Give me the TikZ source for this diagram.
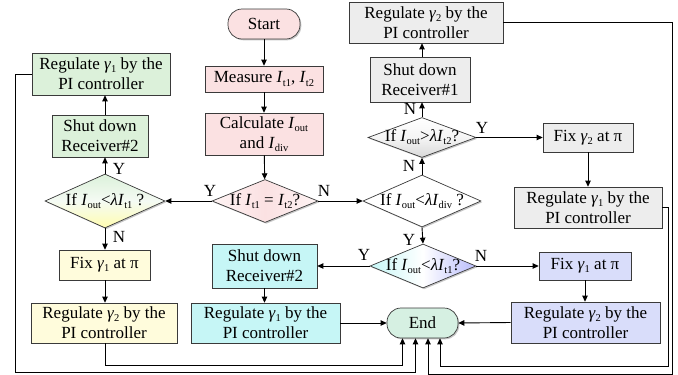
\documentclass[tikz,border=0pt]{standalone}
\usepackage{fontspec}
\setmainfont{Liberation Serif}
\usetikzlibrary{shapes.geometric,arrows.meta,shadows}

\definecolor{pinkf}{HTML}{FBE1E2}
\definecolor{greenf}{HTML}{DCF1DA}
\definecolor{yellowf}{HTML}{FFFCDC}
\definecolor{cyanf}{HTML}{C6F6F6}
\definecolor{grayf}{HTML}{EDEDED}
\definecolor{bluef}{HTML}{D9DDFA}
\definecolor{endf}{HTML}{D6F0E2}
\definecolor{edgec}{HTML}{3A3A3A}

% lowered, smaller subscript for variable names
\newcommand\lowsub[1]{\raisebox{-0.4ex}{\fontsize{10.5}{11}\selectfont #1}}
\newcommand\Ivar[1]{\textit{I}\lowsub{#1}}
\newcommand\gam[1]{\textit{γ}\lowsub{#1}}
\newcommand\lam{\textit{λ}}

\tikzset{
  every node/.style={font=\fontsize{17}{20}\selectfont},
  softshadow/.style={drop shadow={shadow xshift=1.3pt, shadow yshift=-1.3pt, opacity=0.22, fill=black}},
  box/.style={draw=edgec, line width=0.7pt, inner sep=0pt, align=center, softshadow},
  term/.style={box, rounded corners=14pt},
  dia/.style={diamond, draw=edgec, line width=0.7pt, inner sep=0pt, softshadow},
  arr/.style={draw=black, line width=0.9pt, -{Triangle[length=6pt,width=5.5pt]}},
  yn/.style={inner sep=0pt},
}

\begin{document}
\begin{tikzpicture}[x=1pt, y=-1pt]
\useasboundingbox (0,0) rectangle (678,375);

% ---- main column ----
\node[term, fill=pinkf, minimum width=72pt, minimum height=30pt] (start) at (264,24) {Start};
\node[box, fill=pinkf, minimum width=118pt, minimum height=26pt] (meas) at (264,79) {Measure \Ivar{t1}, \Ivar{t2}};
\node[box, fill=pinkf, minimum width=118pt, minimum height=42pt] (calc) at (264,134) {Calculate \Ivar{out}\\and \Ivar{div}};
\node[dia, left color=pinkf!40!white, right color=pinkf!40!white, middle color=pinkf,
      minimum width=106pt, minimum height=43pt,
      label={center:If \Ivar{t1} = \Ivar{t2}?}] (d1) at (265,201) {};

% ---- left branch ----
\node[dia, top color=greenf, bottom color=yellowf!80!yellow, middle color=greenf!30!white,
      minimum width=120pt, minimum height=54pt,
      label={center:If \Ivar{out}<\lam\Ivar{t1} ?}] (d2) at (105,201) {};
\node[box, fill=greenf, minimum width=96pt, minimum height=42pt] (sd2) at (100,136) {Shut down\\Receiver\#2};
\node[box, fill=greenf, minimum width=138pt, minimum height=42pt] (reg1) at (101,74) {Regulate \gam{1} by the\\PI controller};
\node[box, fill=yellowf, minimum width=91pt, minimum height=30pt] (fix1) at (104.5,265) {Fix \gam{1} at π};
\node[box, fill=yellowf, minimum width=146pt, minimum height=40pt] (reg2y) at (104,323) {Regulate \gam{2} by the\\PI controller};

% ---- right branch ----
\node[dia, fill=white, minimum width=118pt, minimum height=52pt,
      label={center:If \Ivar{out}<\lam\Ivar{div} ?}] (d3) at (422,201) {};
\node[dia, top color=white, bottom color=gray!30, middle color=gray!8,
      minimum width=108pt, minimum height=40pt,
      label={center:If \Ivar{out}>\lam\Ivar{t2}?}] (d4) at (422,137.5) {};
\node[box, fill=grayf, minimum width=100pt, minimum height=45pt] (sd1) at (420,79.5) {Shut down\\Receiver\#1};
\node[box, fill=grayf, minimum width=154pt, minimum height=41pt] (reg2t) at (426,22.5) {Regulate \gam{2} by the\\PI controller};
\node[box, fill=grayf, minimum width=90pt, minimum height=29pt] (fix2) at (588,137.5) {Fix \gam{2} at π};
\node[box, fill=grayf, minimum width=148pt, minimum height=41pt] (reg1g) at (588,207.5) {Regulate \gam{1} by the\\PI controller};

\node[dia, left color=cyanf, right color=bluef!85!blue, middle color=white,
      minimum width=106pt, minimum height=44pt,
      label={center:If \Ivar{out}<\lam\Ivar{t1}?}] (d5) at (423,266) {};
\node[box, fill=cyanf, minimum width=105pt, minimum height=44pt] (sd2b) at (264.5,266) {Shut down\\Receiver\#2};
\node[box, fill=cyanf, minimum width=149pt, minimum height=40pt] (reg1b) at (265.5,323) {Regulate \gam{1} by the\\PI controller};
\node[box, fill=bluef, minimum width=92pt, minimum height=28pt] (fix1b) at (585,266) {Fix \gam{1} at π};
\node[box, fill=bluef, minimum width=149pt, minimum height=41pt] (reg2b) at (585.5,322.5) {Regulate \gam{2} by the\\PI controller};

\node[term, fill=endf, minimum width=71pt, minimum height=30pt] (end) at (422.5,323) {End};

% ---- connectors ----
\draw[arr] (start) -- (meas);
\draw[arr] (meas) -- (calc);
\draw[arr] (calc) -- (d1);
\draw[arr] (d1.west) -- (d2.east);
\draw[arr] (d1.east) -- (d3.west);
\draw[arr] (d2.north) -- (d2.north |- sd2.south);
\draw[arr] (d2.north |- sd2.north) -- (d2.north |- reg1.south);
\draw[arr] (d2.south) -- (d2.south |- fix1.north);
\draw[arr] (d2.south |- fix1.south) -- (d2.south |- reg2y.north);

\draw[arr] (d3.north) -- (d4.south);
\draw[arr] (d4.north) -- (d4.north |- sd1.south);
\draw[arr] (d4.north |- sd1.north) -- (d4.north |- reg2t.south);
\draw[arr] (d4.east) -- (d4.east -| fix2.west);
\draw[arr] (fix2.south) -- (reg1g.north);
\draw[arr] (d3.south) -- (d5.north);
\draw[arr] (d5.west) -- (sd2b.east |- d5.west);
\draw[arr] (d5.east) -- (fix1b.west |- d5.east);
\draw[arr] (sd2b.south) -- (sd2b.south |- reg1b.north);
\draw[arr] (fix1b.south) -- (fix1b.south |- reg2b.north);
\draw[arr] (reg1b.east) -- (end.west);
\draw[arr] (reg2b.west) -- (end.east);

% return paths into End
\coordinate (yb) at (105,365);
\coordinate (lb) at (15,372);
\coordinate (rb) at (672,374);
\coordinate (rb2) at (668,366.5);
\draw[arr] (d2.south |- reg2y.south) -- (yb) -| ([xshift=-20pt]end.south);
\draw[arr] (reg1.west) -| (lb) -| ([xshift=-7pt]end.south);
\draw[arr] (reg2t.east) -| (rb) -| ([xshift=5.5pt]end.south);
\draw[arr] (reg1g.east) -| (rb2) -| ([xshift=17.5pt]end.south);

% ---- Y / N labels ----
\node[yn] (l1) at (210,191) {Y};
\node[yn] (l2) at (324,191) {N};
\node[yn] (l3) at (119,169) {Y};
\node[yn] (l4) at (119,237) {N};
\node[yn] (l5) at (410,108.5) {N};
\node[yn] (l6) at (482,128) {Y};
\node[yn] (l7) at (409,166) {N};
\node[yn] (l8) at (409,240) {Y};
\node[yn] (l9) at (364,255) {Y};
\node[yn] (l10) at (481,256) {N};
\end{tikzpicture}
\end{document}
